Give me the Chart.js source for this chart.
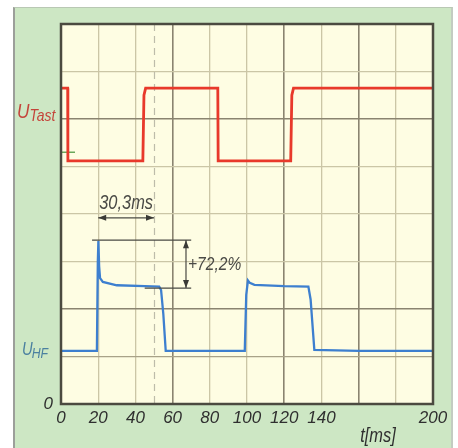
<!DOCTYPE html>
<html>
<head>
<meta charset="utf-8">
<script src="https://cdn.jsdelivr.net/npm/chart.js@4.4.1/dist/chart.umd.min.js"></script>
<style>
    html, body { margin: 0; padding: 0; background: #fff; width: 458px; height: 448px; overflow: hidden; }
    #panel {
        position: absolute; left: 13px; top: 7px; width: 436px; height: 460px;
        background: #cde7c4;
        border-left: 2px solid #9c9f9a;
        border-top: 1px solid #b9c8b4;
        border-right: 2px solid #c3ccc1;
    }
    #scope { position: absolute; left: 0; top: 0; }
</style>
</head>
<body>
<div id="panel"></div>
<canvas id="scope" width="458" height="448"></canvas>
<script>
// U_Tast (keying voltage), t in ms, level in grid divisions
const tastT = [0, 3.6, 3.7, 44.0, 44.6, 45.5, 84.3, 84.5, 123.5, 124.1, 125.0, 200];
const tastU = [6.65, 6.65, 5.12, 5.12, 6.5, 6.65, 6.65, 5.12, 5.12, 6.5, 6.65, 6.65];

// U_HF (RF envelope)
const hfT = [0, 19.3, 19.8, 20.1, 20.5, 21.0, 22.5, 30, 45, 52.8, 53.8, 55.0, 56.3, 70,
             98.8, 99.6, 100.5, 101.5, 104, 120, 133.0, 134.2, 136.2, 160, 200];
const hfU = [1.12, 1.12, 3.0, 3.43, 2.9, 2.65, 2.57, 2.5, 2.48, 2.47, 2.4, 1.9, 1.12, 1.12,
             1.12, 2.3, 2.6, 2.55, 2.51, 2.48, 2.47, 2.2, 1.14, 1.12, 1.12];

// axis ticks
const xTicks = [0, 20, 40, 60, 80, 100, 120, 140, 200];   // labelled ones
const yTicks = [0];

// measurement cursors
const cursorT = 50;                 // dashed cursor
const spanT = [20, 50];             // "30,3ms"
const peakU = 3.45, plateauU = 2.44;
const spanU = 3.92;                 // height of the time arrow
const markU = 5.3;                  // green channel marker

const FONT = '"Liberation Sans", Arial, sans-serif';
const NARROW = 0.82;                // horizontal squeeze for the condensed lettering
const darkX = [60, 120, 160];
const darkY = [2, 6];

function arrowHead(ctx, x, y, dx, dy) {
    // filled arrow head with tip at (x, y) pointing along (dx, dy)
    const len = 8, w = 3;
    ctx.beginPath();
    ctx.moveTo(x, y);
    ctx.lineTo(x - dx * len - dy * w, y - dy * len + dx * w);
    ctx.lineTo(x - dx * len + dy * w, y - dy * len - dx * w);
    ctx.closePath();
    ctx.fill();
}

function narrowText(ctx, text, x, y, size, align) {
    ctx.save();
    ctx.translate(x, y);
    ctx.scale(NARROW, 1);
    ctx.font = "italic " + size + "px " + FONT;
    ctx.textAlign = align || "left";
    ctx.fillText(text, 0, 0);
    const w = ctx.measureText(text).width * NARROW;
    ctx.restore();
    return w;
}

const scopePlugin = {
    id: "scope",
    beforeDraw(chart) {
        const { ctx, chartArea: a } = chart;
        ctx.save();
        ctx.fillStyle = "#fefde3";
        ctx.fillRect(a.left, a.top, a.right - a.left, a.bottom - a.top);
        ctx.restore();
    },
    beforeDatasetsDraw(chart) {
        const { ctx, chartArea: a, scales: { x, y } } = chart;
        ctx.save();
        // dashed cursor
        ctx.strokeStyle = "#bdbcaa";
        ctx.lineWidth = 1.2;
        ctx.setLineDash([7, 5]);
        const cx = Math.round(x.getPixelForValue(cursorT)) + 0.5;
        ctx.beginPath();
        ctx.moveTo(cx, a.top);
        ctx.lineTo(cx, a.bottom);
        ctx.stroke();
        ctx.setLineDash([]);
        // green marker
        ctx.strokeStyle = "#6aa85a";
        ctx.lineWidth = 1.5;
        const my = y.getPixelForValue(markU);
        ctx.beginPath();
        ctx.moveTo(a.left, my);
        ctx.lineTo(a.left + 14, my);
        ctx.stroke();
        ctx.restore();
    },
    afterDatasetsDraw(chart) {
        const { ctx, scales: { x, y } } = chart;
        ctx.save();
        ctx.strokeStyle = "#4a4a44";
        ctx.fillStyle = "#3a3a36";
        ctx.lineWidth = 1.2;

        // time span arrow
        const x1 = x.getPixelForValue(spanT[0]), x2 = x.getPixelForValue(spanT[1]);
        const ay = y.getPixelForValue(spanU);
        ctx.beginPath();
        ctx.moveTo(x1, ay);
        ctx.lineTo(x2, ay);
        ctx.stroke();
        arrowHead(ctx, x1, ay, -1, 0);
        arrowHead(ctx, x2, ay, 1, 0);

        // overshoot lines
        const py = y.getPixelForValue(peakU), qy = y.getPixelForValue(plateauU);
        const vx = x.getPixelForValue(67.2);
        ctx.beginPath();
        ctx.moveTo(x.getPixelForValue(16.7), py);
        ctx.lineTo(x.getPixelForValue(70), py);
        ctx.moveTo(x.getPixelForValue(45), qy);
        ctx.lineTo(x.getPixelForValue(70), qy);
        ctx.moveTo(vx, py);
        ctx.lineTo(vx, qy);
        ctx.stroke();
        arrowHead(ctx, vx, py, 0, -1);
        arrowHead(ctx, vx, qy, 0, 1);

        ctx.fillStyle = "#4a4a46";
        ctx.textBaseline = "alphabetic";
        narrowText(ctx, "30,3ms", (x1 + x2) / 2, ay - 9, 20, "center");
        narrowText(ctx, "+72,2%", vx + 2, 270, 19, "left");
        ctx.restore();
    },
    afterDraw(chart) {
        const { ctx, chartArea: a } = chart;
        ctx.save();
        ctx.strokeStyle = "#4b4a40";
        ctx.lineWidth = 2.5;
        ctx.strokeRect(a.left, a.top, a.right - a.left, a.bottom - a.top);

        ctx.textBaseline = "alphabetic";
        // channel labels
        ctx.fillStyle = "#c4443a";
        let w = narrowText(ctx, "U", 17, 118, 21);
        narrowText(ctx, "Tast", 17 + w, 121, 17);

        ctx.fillStyle = "#4b80a0";
        w = narrowText(ctx, "U", 22, 355, 18);
        narrowText(ctx, "HF", 21 + w, 358, 15);

        // axis name
        ctx.fillStyle = "#2f2f2f";
        narrowText(ctx, "t[ms]", 378, 442, 20, "center");
        ctx.restore();
    }
};

new Chart(document.getElementById("scope"), {
    type: "line",
    data: {
        datasets: [
            {
                label: "U_Tast",
                data: tastT.map((t, i) => ({ x: t, y: tastU[i] })),
                borderColor: "#e8392b",
                borderWidth: 2.8
            },
            {
                label: "U_HF",
                data: hfT.map((t, i) => ({ x: t, y: hfU[i] })),
                borderColor: "#3d7fcf",
                borderWidth: 2.3
            }
        ]
    },
    options: {
        responsive: false,
        animation: false,
        events: [],
        elements: { point: { radius: 0 }, line: { tension: 0 } },
        layout: { padding: { top: 24, right: 25, bottom: 0, left: 0 } },
        plugins: { legend: { display: false }, tooltip: { enabled: false } },
        scales: {
            x: {
                type: "linear",
                min: 0,
                max: 200,
                afterFit: s => { s.height = 44; },
                ticks: {
                    stepSize: 20,
                    autoSkip: false,
                    maxRotation: 0,
                    padding: 4,
                    color: "#2f2f2f",
                    font: { family: FONT, size: 17, style: "italic" },
                    callback: v => xTicks.includes(v) ? String(v) : ""
                },
                grid: {
                    drawTicks: false,
                    color: c => darkX.includes(c.tick.value) ? "#8a8470" : "#cbc6a6",
                    lineWidth: c => darkX.includes(c.tick.value) ? 1.6 : 1.3
                },
                border: { display: false }
            },
            y: {
                type: "linear",
                min: 0,
                max: 8,
                afterFit: s => { s.width = 61; },
                ticks: {
                    stepSize: 1,
                    padding: 8,
                    color: "#2f2f2f",
                    font: { family: FONT, size: 17, style: "italic" },
                    callback: v => yTicks.includes(v) ? String(v) : ""
                },
                grid: {
                    drawTicks: false,
                    color: c => darkY.includes(c.tick.value) ? "#8a8470" : (c.tick.value === 1 ? "#a8a288" : "#cbc6a6"),
                    lineWidth: c => darkY.includes(c.tick.value) ? 1.6 : 1.3
                },
                border: { display: false }
            }
        }
    },
    plugins: [scopePlugin]
});
</script>
</body>
</html>
